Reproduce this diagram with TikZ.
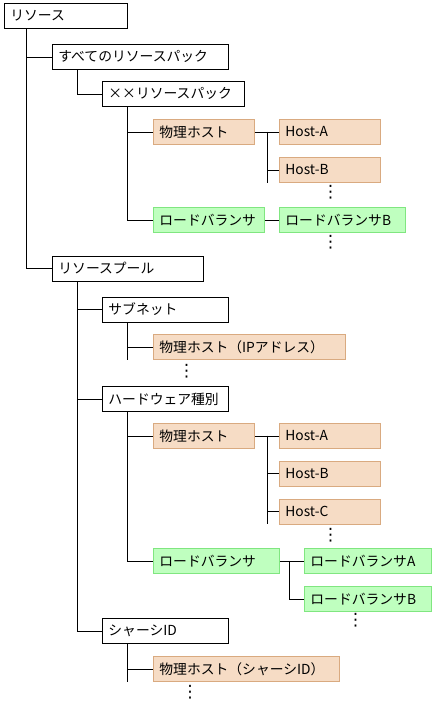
\documentclass[tikz,border=0pt]{standalone}
\usepackage{fontspec}
\setmainfont{Noto Sans CJK JP}
\newfontfamily\dotfont{DejaVu Sans}
\usepackage{xcolor}
\usepackage{tikz}
\usetikzlibrary{positioning,calc}
\definecolor{hostfill}{HTML}{F6DCC5}
\definecolor{hostline}{HTML}{D9AA80}
\definecolor{lbfill}{HTML}{BFFFBF}
\definecolor{lbline}{HTML}{80E680}
\tikzstyle{box} = [draw, line width=0.8pt, anchor=north west, minimum height=25pt,
  inner xsep=6pt, inner ysep=0pt, align=left, font=\fontsize{13.8pt}{15pt}\selectfont]
\tikzstyle{hostbox} = [box, draw=hostline, fill=hostfill]
\tikzstyle{lbbox} = [box, draw=lbline, fill=lbfill]
\tikzstyle{line} = [line width=0.8pt]
\tikzstyle{vdots} = [inner sep=0pt, font=\dotfont\fontsize{17pt}{17pt}\selectfont]

\begin{document}
\begin{tikzpicture}[x=1pt,y=-1pt]
        \useasboundingbox (0,0) rectangle (434,713);
        % Define nodes
        \node[box, text width=111pt] (resource) at (4,3) {リソース};
        \node[box, text width=164pt] (allpack) at (52,44) {すべてのリソースパック};
        \node[box, text width=130pt] (xxpack) at (102,81) {××リソースパック};

        \node[hostbox, text width=89pt] (host1) at (153,119) {物理ホスト};
        \node[hostbox, text width=89pt] (hostA1) at (279,119) {Host-A};
        \node[hostbox, text width=89pt] (hostB1) at (279,157) {Host-B};
        \node[vdots] (dots1) at (330.7,192) {⋮};

        \node[lbbox, text width=99pt] (lb1) at (153,207) {ロードバランサ};
        \node[lbbox, text width=114pt] (lbB1) at (279,207) {ロードバランサB};
        \node[vdots] (dots2) at (330.7,242.5) {⋮};

        \node[box, text width=139pt] (pool) at (52,255.5) {リソースプール};

        \node[box, text width=114pt] (subnet) at (102,296.5) {サブネット};
        \node[hostbox, text width=180pt] (hostip) at (153,334) {物理ホスト（IPアドレス）};
        \node[vdots] (dots3) at (186.7,371) {⋮};

        \node[box, text width=114pt] (hwtype) at (102,386) {ハードウェア種別};
        \node[hostbox, text width=89pt] (host2) at (153,423) {物理ホスト};
        \node[hostbox, text width=89pt] (hostA2) at (279,423) {Host-A};
        \node[hostbox, text width=89pt] (hostB2) at (279,460.5) {Host-B};
        \node[hostbox, text width=89pt] (hostC2) at (279,498.5) {Host-C};
        \node[vdots] (dots4) at (330.7,535) {⋮};

        \node[lbbox, text width=114pt] (lb2) at (153,548) {ロードバランサ};
        \node[lbbox, text width=115pt] (lbA2) at (304,548) {ロードバランサA};
        \node[lbbox, text width=115pt] (lbB2) at (304,586) {ロードバランサB};
        \node[vdots] (dots5) at (355.7,620.5) {⋮};

        \node[box, text width=114pt] (chassis) at (102,618) {シャーシID};
        \node[hostbox, text width=174pt] (hostch) at (153,656) {物理ホスト（シャーシID）};
        \node[vdots] (dots6) at (190,692) {⋮};

        % Branch points
        \coordinate (b1) at ($(host1.east)!0.5!(hostA1.west)$);
        \coordinate (b2) at ($(host2.east)!0.5!(hostA2.west)$);
        \coordinate (b3) at ($(lb2.east)!0.4!(lbA2.west)$);

        % Connectors
        \draw [line] ([xshift=22pt]resource.south west) |- (allpack.west);
        \draw [line] ([xshift=22pt]resource.south west) |- (pool.west);
        \draw [line] ([xshift=25pt]allpack.south west) |- (xxpack.west);
        \draw [line] ([xshift=25pt]xxpack.south west) |- (host1.west);
        \draw [line] ([xshift=25pt]xxpack.south west) |- (lb1.west);
        \draw [line] (host1.east) -- (hostA1.west);
        \draw [line] (b1) |- (hostB1.west);
        \draw [line] (b1) -- (b1 |- hostB1.south);
        \draw [line] (lb1.east) -- (lbB1.west);

        \draw [line] ([xshift=25pt]pool.south west) |- (subnet.west);
        \draw [line] ([xshift=25pt]pool.south west) |- (hwtype.west);
        \draw [line] ([xshift=25pt]pool.south west) |- (chassis.west);
        \draw [line] ([xshift=25pt]subnet.south west) |- (hostip.west);
        \draw [line] ([xshift=25pt]subnet.south west) -- ([xshift=25pt]subnet.south west |- hostip.south);

        \draw [line] ([xshift=25pt]hwtype.south west) |- (host2.west);
        \draw [line] ([xshift=25pt]hwtype.south west) |- (lb2.west);
        \draw [line] (host2.east) -- (hostA2.west);
        \draw [line] (b2) |- (hostB2.west);
        \draw [line] (b2) |- (hostC2.west);
        \draw [line] (b2) -- (b2 |- hostC2.south);
        \draw [line] (lb2.east) -- (lbA2.west);
        \draw [line] (b3) |- (lbB2.west);

        \draw [line] ([xshift=25pt]chassis.south west) |- (hostch.west);
        \draw [line] ([xshift=25pt]chassis.south west) -- ([xshift=25pt]chassis.south west |- hostch.south);
\end{tikzpicture}
\end{document}
